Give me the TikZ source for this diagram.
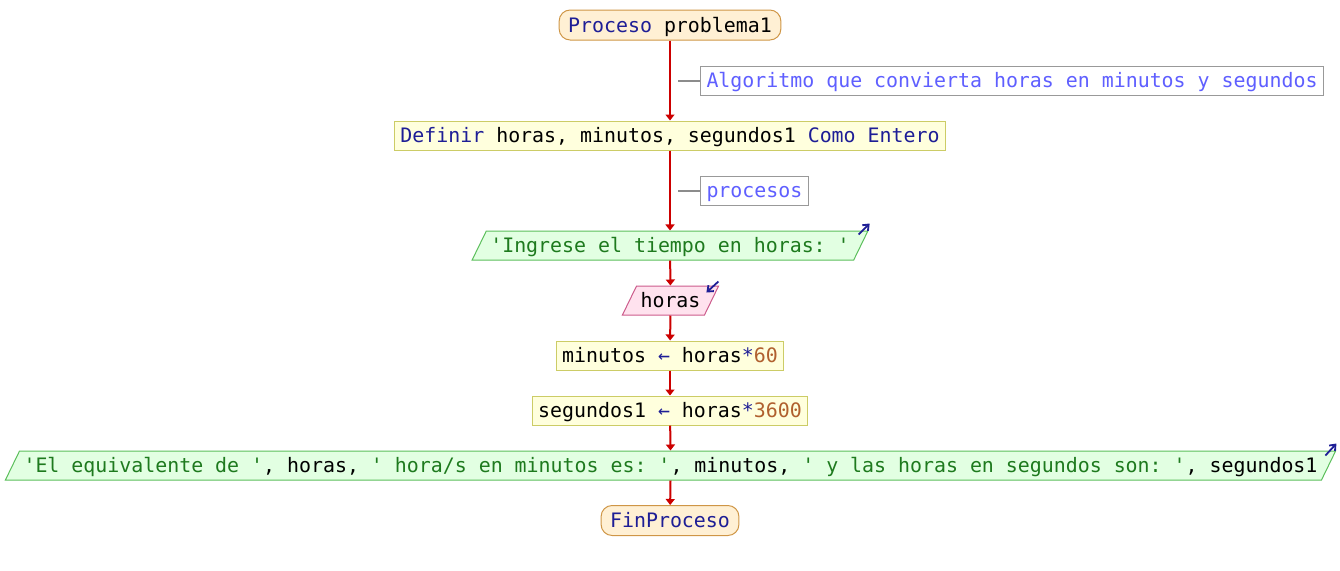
\documentclass[tikz,border=0pt]{standalone}
\usepackage{fontspec}
\setmonofont{DejaVu Sans Mono}
\usetikzlibrary{shapes.geometric,arrows.meta}

\definecolor{kwblue}{HTML}{1E1E96}
\definecolor{numbrown}{HTML}{B0602E}
\definecolor{strgreen}{HTML}{1E7A1E}
\definecolor{flowred}{HTML}{CC0000}
\definecolor{comblue}{HTML}{5F5FFF}
\definecolor{termfill}{HTML}{FFF0D4}
\definecolor{termdraw}{HTML}{CF9646}
\definecolor{procfill}{HTML}{FFFFDD}
\definecolor{procdraw}{HTML}{CCCC66}
\definecolor{outfill}{HTML}{E2FFE2}
\definecolor{outdraw}{HTML}{5CBF5C}
\definecolor{infill}{HTML}{FFE2EE}
\definecolor{indraw}{HTML}{CC5C8C}

\newcommand{\pkw}[1]{\textcolor{kwblue}{#1}}
\newcommand{\pnum}[1]{\textcolor{numbrown}{#1}}
\newcommand{\pstr}[1]{\textcolor{strgreen}{#1}}

\tikzset{
    base/.style={font=\ttfamily\fontsize{19.9}{24}\selectfont, text height=17pt, text depth=3pt,
        inner ysep=4.5pt, line width=1pt},
    terminal/.style={base, draw=termdraw, fill=termfill, rounded corners=11pt,
        inner xsep=9pt, inner ysep=5pt, text=kwblue},
    procbox/.style={base, draw=procdraw, fill=procfill, inner xsep=6pt},
    combox/.style={base, draw=black!40, fill=white, inner xsep=6pt, text=comblue},
    iobox/.style={base, trapezium, trapezium left angle=64, trapezium right angle=116, inner xsep=4pt},
    outbox/.style={iobox, draw=outdraw, fill=outfill},
    inbox/.style={iobox, draw=indraw, fill=infill},
    flow/.style={draw=flowred, line width=2pt, -{Triangle[width=9pt,length=6pt]}},
    comline/.style={draw=black!45, line width=2pt},
    iomark/.style={draw=kwblue, line width=1.8pt, -{Straight Barb[length=5pt,width=8pt]}}
}

\begin{document}
\begin{tikzpicture}[x=1pt,y=-1pt]
    \useasboundingbox (0,0) rectangle (1340,570);

    \node[terminal] (start) at (670,25) {Proceso \textcolor{black}{problema1}};
    \node[combox, anchor=west] (com1) at (700,80.5) {Algoritmo que convierta horas en minutos y segundos};
    \node[procbox] (def) at (670,135.5) {\pkw{Definir} horas, minutos, segundos1 \pkw{Como Entero}};
    \node[combox, anchor=west] (com2) at (700,190.5) {procesos};
    \node[outbox] (out1) at (670,245.5) {\pstr{'Ingrese el tiempo en horas: '}};
    \node[inbox] (in1) at (670.5,300.5) {horas};
    \node[procbox] (asig1) at (670,355.5) {minutos \pkw{←} horas\pkw{*}\pnum{60}};
    \node[procbox] (asig2) at (670,410.5) {segundos1 \pkw{←} horas\pkw{*}\pnum{3600}};
    \node[outbox] (out2) at (670.5,465.5) {\pstr{'El equivalente de '}, horas, \pstr{' hora/s en minutos es: '}, minutos, \pstr{' y las horas en segundos son: '}, segundos1};
    \node[terminal] (fin) at (670,520.5) {FinProceso};

    \draw[flow] (start) -- (def);
    \draw[flow] (def) -- (out1);
    \draw[flow] (out1) -- (in1);
    \draw[flow] (in1) -- (asig1);
    \draw[flow] (asig1) -- (asig2);
    \draw[flow] (asig2) -- (out2);
    \draw[flow] (out2) -- (fin);

    \coordinate (c1) at (678,80.5);
    \coordinate (c2) at (678,190.5);
    \draw[comline] (c1) -- (com1.west);
    \draw[comline] (c2) -- (com2.west);

    \draw[iomark] ([xshift=-10pt,yshift=-4pt]out1.top right corner) -- ([xshift=1pt,yshift=7pt]out1.top right corner);
    \draw[iomark] ([xshift=-1pt,yshift=4pt]in1.top right corner) -- ([xshift=-13pt,yshift=-7pt]in1.top right corner);
    \draw[iomark] ([xshift=-11pt,yshift=-5pt]out2.top right corner) -- ([xshift=0pt,yshift=7pt]out2.top right corner);
\end{tikzpicture}
\end{document}
